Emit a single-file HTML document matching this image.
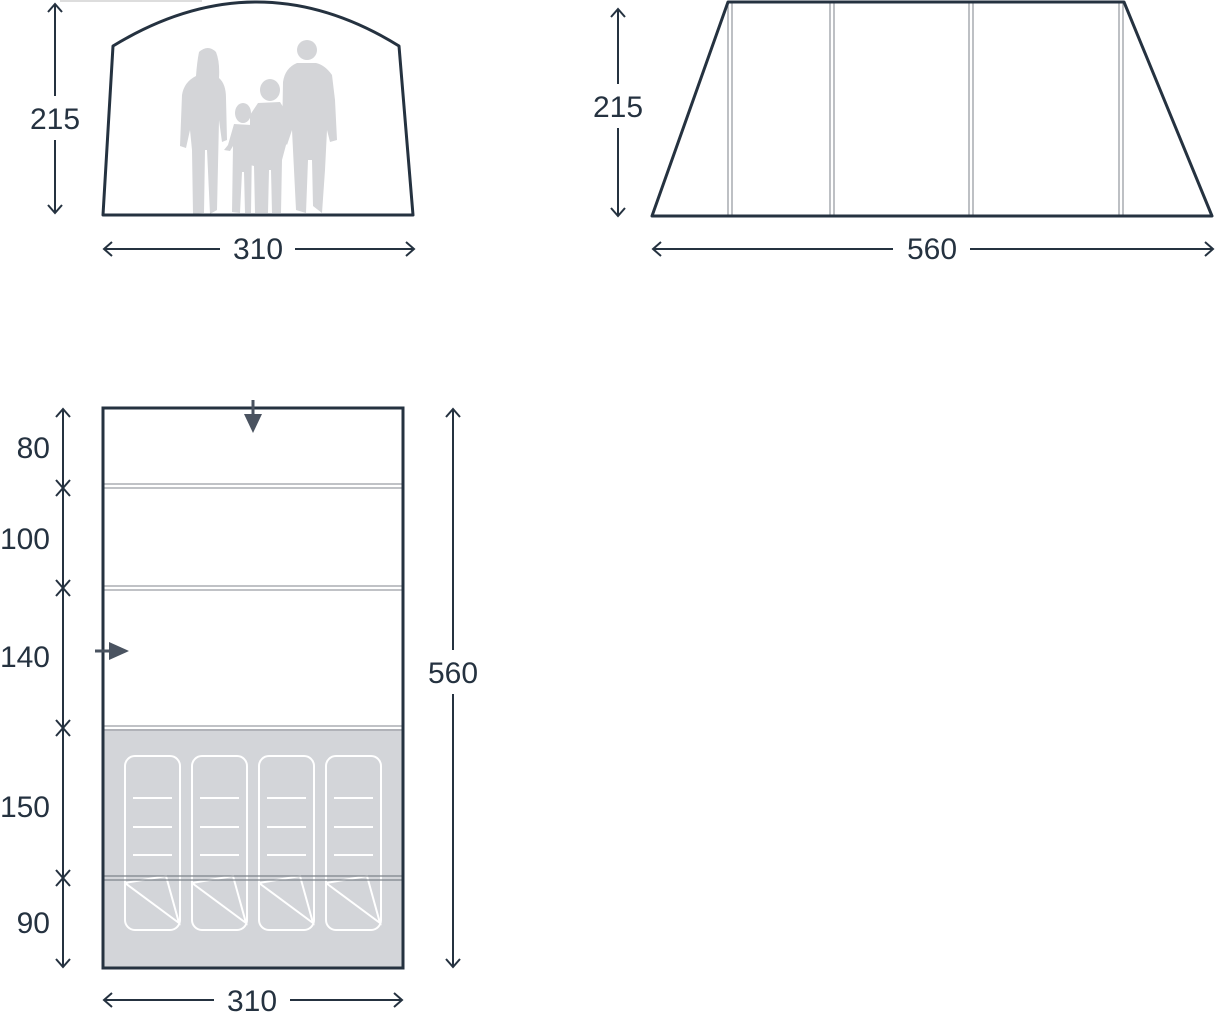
<!DOCTYPE html>
<html><head><meta charset="utf-8"><style>
html,body{margin:0;padding:0;background:#fff;}
svg{display:block}
text{font-family:"Liberation Sans",sans-serif;font-size:30px;fill:#253240}
</style></head><body>
<svg width="1215" height="1019" viewBox="0 0 1215 1019" xmlns="http://www.w3.org/2000/svg">
<!-- FRONT VIEW -->
<line x1="60" y1="1" x2="202" y2="1" stroke="#bbb" stroke-width="1"/>
<g fill="#d4d5d8">
  <path d="M199 52 Q208 44 216 52 Q220 62 219 78 Q226 84 226 98 L227 140 L222 142 L219 120 L217 210 L210 214 L207 150 L205 150 L204 213 L193 214 L192 150 L190 130 L186 148 L180 146 L182 95 Q184 82 196 76 Q197 62 199 52 Z"/>
  <ellipse cx="243" cy="113" rx="8" ry="10"/>
  <path d="M234 124 L228 145 L224 150 L230 151 L233 146 L232 212 L240 213 L242 172 L244 172 L245 213 L251 213 L252 145 L251 125 Z"/>
  <ellipse cx="270" cy="90" rx="10" ry="11"/>
  <path d="M258 103 L250 115 L250 165 L254 166 L255 213 L268 213 L269 170 L271 170 L272 213 L281 213 L282 160 L286 145 L285 110 L280 102 Z"/>
  <ellipse cx="307" cy="50" rx="10" ry="10"/>
  <path d="M297 63 Q285 68 283 82 L282 140 L287 145 L292 130 L294 170 L296 210 L306 213 L308 160 L312 160 L313 206 L322 213 L325 170 L327 130 L330 142 L337 140 L335 100 L332 75 Q325 65 316 63 Z"/>
</g>
<path d="M103 215 L113 46 Q257 -42 399 46 L413 215 Z" fill="none" stroke="#253240" stroke-width="3" stroke-linejoin="round"/>
<g stroke="#253240" stroke-width="2" fill="none">
  <line x1="55" y1="4" x2="55" y2="96"/><line x1="55" y1="140" x2="55" y2="213"/>
  <polyline points="48,12 55,4 62,12"/><polyline points="48,205 55,213 62,205"/>
  <line x1="104" y1="249" x2="220" y2="249"/><line x1="295" y1="249" x2="414" y2="249"/>
  <polyline points="112,242 104,249 112,256"/><polyline points="406,242 414,249 406,256"/>
</g>
<text x="55" y="129" text-anchor="middle">215</text>
<text x="258" y="259" text-anchor="middle">310</text>

<!-- SIDE VIEW -->
<g stroke="#9a9ea5" stroke-width="1.3">
  <line x1="728" y1="2" x2="728" y2="216"/><line x1="732" y1="2" x2="732" y2="216"/>
  <line x1="830" y1="2" x2="830" y2="216"/><line x1="834" y1="2" x2="834" y2="216"/>
  <line x1="969" y1="2" x2="969" y2="216"/><line x1="973" y1="2" x2="973" y2="216"/>
  <line x1="1119" y1="2" x2="1119" y2="216"/><line x1="1123" y1="2" x2="1123" y2="216"/>
</g>
<path d="M652 216 L728 2 L1124 2 L1212 216 Z" fill="none" stroke="#253240" stroke-width="3" stroke-linejoin="round"/>
<g stroke="#253240" stroke-width="2" fill="none">
  <line x1="618" y1="9" x2="618" y2="84"/><line x1="618" y1="128" x2="618" y2="216"/>
  <polyline points="611,17 618,9 625,17"/><polyline points="611,208 618,216 625,208"/>
  <line x1="653" y1="249" x2="893" y2="249"/><line x1="970" y1="249" x2="1213" y2="249"/>
  <polyline points="661,242 653,249 661,256"/><polyline points="1205,242 1213,249 1205,256"/>
</g>
<text x="618" y="117" text-anchor="middle">215</text>
<text x="932" y="259" text-anchor="middle">560</text>

<!-- FLOOR PLAN -->
<rect x="103" y="729" width="300" height="239" fill="#d3d5d9"/>
<g stroke="#9a9ea5" stroke-width="1.3">
  <line x1="103" y1="484" x2="403" y2="484"/><line x1="103" y1="488" x2="403" y2="488"/>
  <line x1="103" y1="586" x2="403" y2="586"/><line x1="103" y1="590" x2="403" y2="590"/>
  <line x1="103" y1="726" x2="403" y2="726"/><line x1="103" y1="730" x2="403" y2="730"/>
</g>
<g stroke="#fff" stroke-width="2" fill="none">
  <g id="b1">
    <rect x="125" y="756" width="55" height="174" rx="10"/>
    <line x1="133" y1="798" x2="172" y2="798"/><line x1="133" y1="827" x2="172" y2="827"/><line x1="133" y1="855" x2="172" y2="855"/>
    <polyline points="125,883 166,876 179,923 125,883"/>
  </g>
  <use href="#b1" x="67"/><use href="#b1" x="134"/><use href="#b1" x="201"/>
</g>
<g stroke="#7d838b" stroke-width="1.3">
  <line x1="103" y1="876" x2="403" y2="876"/><line x1="103" y1="880" x2="403" y2="880"/>
</g>
<rect x="103" y="408" width="300" height="560" fill="none" stroke="#253240" stroke-width="3"/>
<g fill="#4a5360" stroke="#4a5360">
  <line x1="253" y1="400" x2="253" y2="418" stroke-width="3"/>
  <polygon points="244,414 262,414 253,433" stroke="none"/>
  <line x1="95" y1="651" x2="112" y2="651" stroke-width="3"/>
  <polygon points="109,642 109,660 129,651" stroke="none"/>
</g>
<g stroke="#253240" stroke-width="2" fill="none">
  <line x1="63" y1="409" x2="63" y2="967"/>
  <polyline points="56,417 63,409 70,417"/>
  <polyline points="56,480 63,488 70,480"/><polyline points="56,496 63,488 70,496"/>
  <polyline points="56,580 63,588 70,580"/><polyline points="56,596 63,588 70,596"/>
  <polyline points="56,720 63,728 70,720"/><polyline points="56,736 63,728 70,736"/>
  <polyline points="56,870 63,878 70,870"/><polyline points="56,886 63,878 70,886"/>
  <polyline points="56,959 63,967 70,959"/>
  <line x1="453" y1="409" x2="453" y2="650"/><line x1="453" y1="694" x2="453" y2="967"/>
  <polyline points="446,417 453,409 460,417"/><polyline points="446,959 453,967 460,959"/>
  <line x1="104" y1="1000" x2="214" y2="1000"/><line x1="290" y1="1000" x2="402" y2="1000"/>
  <polyline points="112,993 104,1000 112,1007"/><polyline points="394,993 402,1000 394,1007"/>
</g>
<text x="50" y="458" text-anchor="end">80</text>
<text x="50" y="549" text-anchor="end">100</text>
<text x="50" y="667" text-anchor="end">140</text>
<text x="50" y="817" text-anchor="end">150</text>
<text x="50" y="933" text-anchor="end">90</text>
<text x="453" y="683" text-anchor="middle">560</text>
<text x="252" y="1011" text-anchor="middle">310</text>
</svg>
</body></html>
